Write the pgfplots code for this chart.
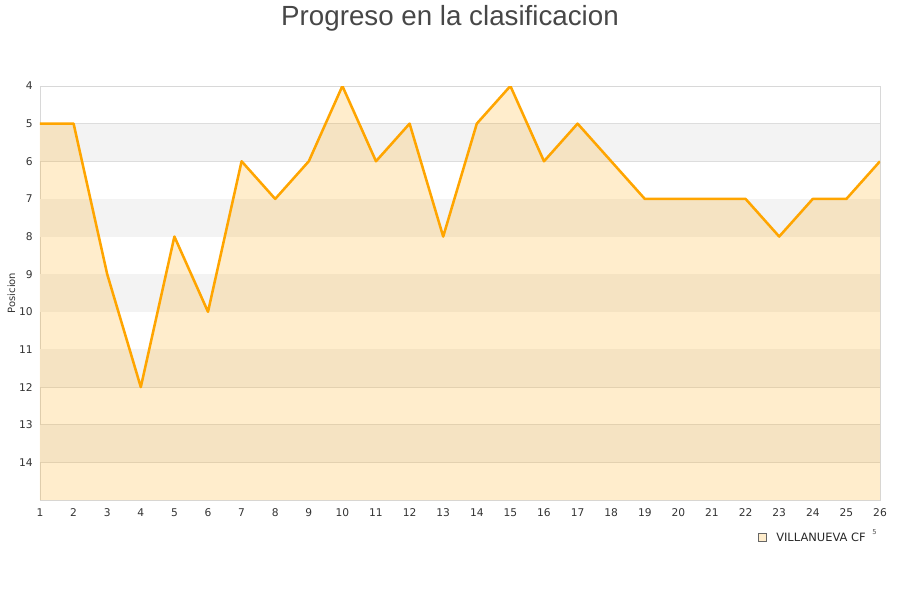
\documentclass[border=0pt]{standalone}
\usepackage{pgfplots}
\pgfplotsset{compat=1.18}
\usepackage{fontspec}
\setmainfont{DejaVu Sans}
\newfontfamily\titlefont{Liberation Sans}
\definecolor{lineor}{HTML}{FFA500}
\definecolor{bandgray}{HTML}{F3F3F3}
\definecolor{gridc}{HTML}{DDDDDD}
\definecolor{framec}{HTML}{D8D8D8}
\definecolor{txt}{HTML}{333333}
\begin{document}
\begin{tikzpicture}[x=0.75pt,y=0.75pt]
\path[use as bounding box] (0,0) rectangle (900,600);
\node[font=\titlefont\fontsize{20.8}{24}\selectfont, text=txt!90] at (450,582) {Progreso en la clasificacion};
\begin{axis}[
  at={(40*0.75pt,100*0.75pt)}, anchor=south west,
  scale only axis, width=630pt, height=310.5pt,
  xmin=1, xmax=26, ymin=4, ymax=15, y dir=reverse,
  xtick={1,...,26}, ytick={4,...,14},
  tick style={draw=none},
  axis line style={framec},
  ymajorgrids, grid style={gridc, line width=0.6pt},
  tick label style={font=\fontsize{8}{10}\selectfont, text=txt},
  /pgf/number format/assume math mode=true,
  xticklabel style={yshift=-3pt},
  yticklabel style={xshift=-2pt},
  ylabel={Posicion}, ylabel style={font=\fontsize{7.5}{9}\selectfont, text=txt, yshift=-4pt},
  clip=true,
]
\addplot[fill=bandgray, draw=none, forget plot] coordinates {(1,5) (26,5) (26,6) (1,6)} -- cycle;
\addplot[fill=bandgray, draw=none, forget plot] coordinates {(1,7) (26,7) (26,8) (1,8)} -- cycle;
\addplot[fill=bandgray, draw=none, forget plot] coordinates {(1,9) (26,9) (26,10) (1,10)} -- cycle;
\addplot[fill=bandgray, draw=none, forget plot] coordinates {(1,11) (26,11) (26,12) (1,12)} -- cycle;
\addplot[fill=bandgray, draw=none, forget plot] coordinates {(1,13) (26,13) (26,14) (1,14)} -- cycle;
\addplot[fill=lineor, fill opacity=0.2, draw=none, forget plot] coordinates {
(1,5) (2,5) (3,9) (4,12) (5,8) (6,10) (7,6) (8,7) (9,6) (10,4) (11,6) (12,5) (13,8)
(14,5) (15,4) (16,6) (17,5) (18,6) (19,7) (20,7) (21,7) (22,7) (23,8) (24,7) (25,7) (26,6)
(26,15) (1,15)} -- cycle;
\addplot[lineor, line width=1.9pt, line join=round, mark=none] coordinates {
(1,5) (2,5) (3,9) (4,12) (5,8) (6,10) (7,6) (8,7) (9,6) (10,4) (11,6) (12,5) (13,8)
(14,5) (15,4) (16,6) (17,5) (18,6) (19,7) (20,7) (21,7) (22,7) (23,8) (24,7) (25,7) (26,6)};
\end{axis}
\fill[fill=lineor!20, draw=gray!80!black, line width=0.5pt] (758,67) rectangle (766,59);
\node[anchor=west, font=\fontsize{8.6}{10}\selectfont, text=black!85, inner sep=0pt] at (776,63) {VILLANUEVA CF};
\node[anchor=west, font=\fontsize{5}{6}\selectfont, text=black!70, inner sep=0pt] at (872,68) {5};
\end{tikzpicture}
\end{document}
